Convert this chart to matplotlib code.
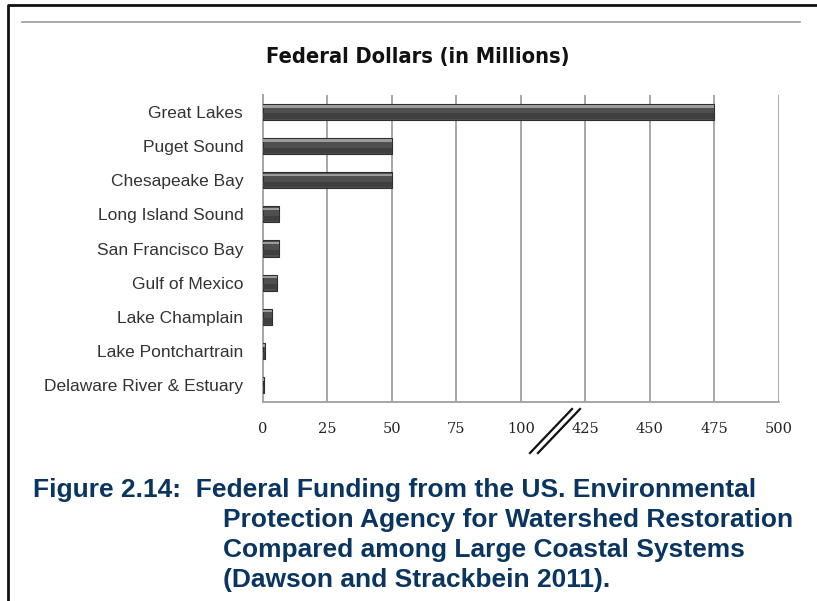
import numpy as np
import matplotlib
matplotlib.use('Agg')
import matplotlib.pyplot as plt
from matplotlib.lines import Line2D

# data
categories = ['Great Lakes', 'Puget Sound', 'Chesapeake Bay', 'Long Island Sound',
              'San Francisco Bay', 'Gulf of Mexico', 'Lake Champlain',
              'Lake Pontchartrain', 'Delaware River & Estuary']
dollars = [475, 50, 50, 6.5, 6.5, 5.5, 3.5, 1.0, 0.4]
ticks = [0, 25, 50, 75, 100, 425, 450, 475, 500]
title = 'Federal Dollars (in Millions)'
caption = ['Figure 2.14:  Federal Funding from the US. Environmental',
           'Protection Agency for Watershed Restoration',
           'Compared among Large Coastal Systems',
           '(Dawson and Strackbein 2011).']


# broken axis: 100..425 squeezed into one tick step
def fwd(x):
    x = np.asarray(x, dtype=float)
    return np.where(x <= 100, x,
                    np.where(x < 425, 100 + (x - 100) * 25 / 325, x - 300))


def inv(y):
    y = np.asarray(y, dtype=float)
    return np.where(y <= 100, y,
                    np.where(y < 125, 100 + (y - 100) * 325 / 25, y + 300))


fig = plt.figure(figsize=(8.17, 6.01), dpi=100)
ax = fig.add_axes([0.3215, 0.331, 0.632, 0.511])
ax.set_xscale('function', functions=(fwd, inv))

y = np.arange(len(categories))
ax.barh(y, dollars, height=0.47, color='#4f4f4f', edgecolor='#2e2e2e',
        linewidth=0.8, zorder=3)
# bevel: light top edge and darker lower half
ax.barh(y - 0.16, dollars, height=0.07, color='#9b9b9b', linewidth=0, zorder=4)
ax.barh(y + 0.12, dollars, height=0.16, color='#3f3f3f', linewidth=0, zorder=4)

ax.set_xlim(0, 500)
ax.set_ylim(len(categories) - 0.5, -0.5)
ax.set_xticks(ticks)
ax.set_xticklabels([str(t) for t in ticks], family='DejaVu Serif', fontsize=10.5,
                   color='#222222')
ax.set_yticks(y)
ax.set_yticklabels(categories, family='Liberation Sans', fontsize=12.5, color='#333333')
ax.tick_params(axis='x', length=0, pad=14)
ax.tick_params(axis='y', length=0, pad=14)
ax.xaxis.grid(True, color='#a6a6a6', linewidth=1.4, zorder=0)
for s in ['top', 'right']:
    ax.spines[s].set_visible(False)
for s in ['left', 'bottom']:
    ax.spines[s].set_color('#a6a6a6')
    ax.spines[s].set_linewidth(1.4)

# break mark
for dx in (0, 8):
    fig.add_artist(Line2D([(530 + dx) / 817, (572 + dx) / 817],
                          [1 - 453 / 601, 1 - 409 / 601],
                          color='#111111', linewidth=1.6))

fig.text(418 / 817, 1 - 57 / 601, title, ha='center', va='center',
         family='DejaVu Sans', stretch='condensed', fontweight='bold',
         fontsize=15.7, color='#111111')

# frame and rule
fig.add_artist(Line2D([22 / 817, 800 / 817], [1 - 22 / 601] * 2,
                      color='#9a9a9a', linewidth=1.2))
fig.add_artist(Line2D([8 / 817, 8 / 817, 817 / 817], [0, 1 - 5 / 601, 1 - 5 / 601],
                      color='#111111', linewidth=2))

navy = '#0b3561'
fig.text(33 / 817, 1 - 497 / 601, caption[0], ha='left', va='baseline',
         family='Liberation Sans', fontweight='bold', fontsize=19, color=navy)
for i, line in enumerate(caption[1:]):
    fig.text(223 / 817, 1 - (527 + 30 * i) / 601, line, ha='left', va='baseline',
             family='Liberation Sans', fontweight='bold', fontsize=19, color=navy)

fig.savefig('out.png', dpi=100)
